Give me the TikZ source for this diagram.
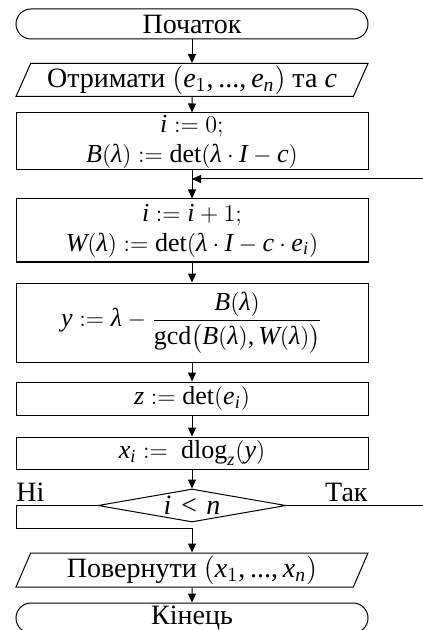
\documentclass[tikz,border=0pt]{standalone}
\usepackage{amsmath}
\usepackage{fontspec}
\setmainfont{Liberation Serif}
\DeclareSymbolFont{letters}{TU}{\rmdefault}{m}{it}
\DeclareMathSymbol{,}{\mathpunct}{operators}{`,}
\DeclareMathSymbol{.}{\mathord}{operators}{`.}
\DeclareMathSymbol{\ldotp}{\mathpunct}{operators}{`.}
\Umathchardef\lambda="0 "1 "03BB
\usetikzlibrary{arrows.meta,shapes.geometric,shapes.misc}
\tikzset{
  blk/.style={draw,rectangle,minimum width=176pt,inner sep=0pt,align=center,
              font=\fontsize{13}{14}\selectfont},
  term/.style={draw,rectangle,minimum width=176pt,inner sep=0pt,rounded corners=7.5pt},
  io/.style={draw,trapezium,trapezium left angle=63,trapezium right angle=117,
             trapezium stretches body,minimum width=176pt,inner sep=0pt},
  ask/.style={draw,diamond,aspect=5.7,minimum width=94pt,minimum height=16.5pt,
              inner sep=0pt},
  flow/.style={-{Triangle[length=4.5pt,width=4pt]}},
  lbl/.style={inner sep=0pt},
}

\begin{document}
\begin{tikzpicture}[x=0.5pt,y=-0.5pt,line width=0.5pt,font=\fontsize{14}{15.5}\selectfont]
  \useasboundingbox (0,0) rectangle (422,630);
  \node[term,minimum height=15pt] (start) at (192,24) {Початок};
  \node[io,minimum height=16.5pt] (input) at (192,80) {Отримати $(e_1,...,e_n)$ та $c$};
  \node[blk,minimum height=28.5pt] (init) at (192,141.5) {$i:=0;$\\[1pt] $B(\lambda):=\det(\lambda\cdot I-c)$};
  \coordinate (join) at (192,179);
  \node[blk,minimum height=31.5pt] (step) at (192,230.5)
    {$i:=i+1;$\\[1pt] $W(\lambda):=\det(\lambda\cdot I-c\cdot e_i)$};
  \node[blk,minimum height=39.5pt] (yval) at (192,322.5)
    {$y:=\lambda-\dfrac{B(\lambda)}{\gcd\bigl(B(\lambda),W(\lambda)\bigr)}$};
  \node[blk,minimum height=16.5pt] (zval) at (192,398.5) {$z:=\det(e_i)$};
  \node[blk,minimum height=16pt] (xval) at (192,453) {$x_i:=\ \operatorname{dlog}_z(y)$};
  \node[ask] (cond) at (192,505.5) {\raisebox{-2pt}{$i<n$}};
  \node[lbl,anchor=south west] (no) at (16,502) {Ні};
  \node[lbl,anchor=south east] (yes) at (368,502) {Так};
  \coordinate (noturn) at (16,528);
  \coordinate (loopR) at (428,505.5);
  \node[io,minimum height=17pt] (out) at (192,570) {Повернути $(x_1,...,x_n)$};
  \node[term,minimum height=15pt] (stop) at (192,618) {Кінець};
  \draw[flow] (start) -- (input);
  \draw[flow] (input) -- (init);
  \draw[flow] (init) -- (step);
  \draw[flow] (step) -- (yval);
  \draw[flow] (yval) -- (zval);
  \draw[flow] (zval) -- (xval);
  \draw[flow] (xval) -- (cond);
  \draw[flow] (cond.east) -- (loopR) |- (join);
  \draw[flow] (cond.west) -| (noturn) -- (noturn -| out.north) -- (out.north);
  \draw[flow] (out) -- (stop);
\end{tikzpicture}
\end{document}
